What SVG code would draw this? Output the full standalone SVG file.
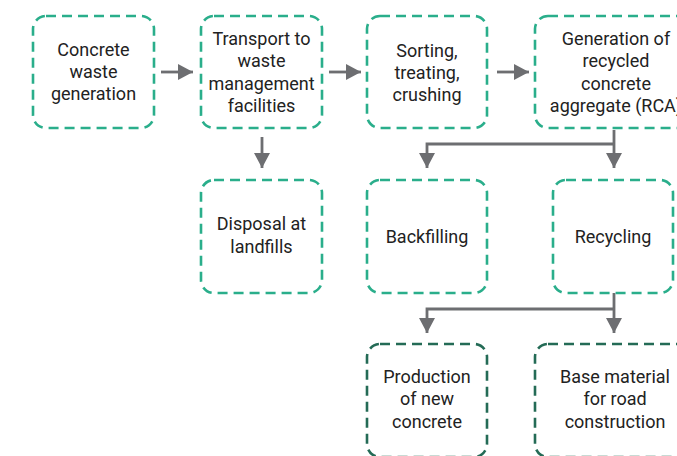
<svg xmlns="http://www.w3.org/2000/svg" width="677" height="456" viewBox="0 0 677 456">
<defs>
<style>
.box{fill:#ffffff;stroke:#2aae8b;stroke-width:2.6;stroke-dasharray:10 6}
.dark{stroke:#246b56}
.t{font-family:Roboto,"Liberation Sans",sans-serif;font-size:18px;fill:#222222;text-anchor:middle}
.c{fill:none;stroke:#6d6e71;stroke-width:2.8}
</style>
<marker id="ah" markerUnits="userSpaceOnUse" markerWidth="16" markerHeight="16" refX="15" refY="8" orient="auto" viewBox="0 0 16 16">
<path d="M0,0 L15,8 L0,16 z" fill="#6d6e71"/>
</marker>
</defs>
<rect width="677" height="456" fill="#ffffff"/>
<g id="connectors">
<path class="c" d="M161,72 H193" marker-end="url(#ah)"/>
<path class="c" d="M329,72 H361" marker-end="url(#ah)"/>
<path class="c" d="M497,72 H529" marker-end="url(#ah)"/>
<path class="c" d="M262,137 V168" marker-end="url(#ah)"/>
<path class="c" d="M614,130 V168" marker-end="url(#ah)"/>
<path class="c" d="M614,144 H427 V168" marker-end="url(#ah)"/>
<path class="c" d="M614,293 V333" marker-end="url(#ah)"/>
<path class="c" d="M614,309 H427 V333" marker-end="url(#ah)"/>
</g>
<g id="n1"><rect class="box" x="33" y="16" width="121" height="112" rx="13"/>
<text class="t" x="93.5" y="56">Concrete</text><text class="t" x="93.5" y="78">waste</text><text class="t" x="93.5" y="100">generation</text></g>
<g id="n2"><rect class="box" x="201" y="16" width="121" height="112" rx="13"/>
<text class="t" x="261.5" y="45">Transport to</text><text class="t" x="261.5" y="67">waste</text><text class="t" x="261.5" y="90">management</text><text class="t" x="261.5" y="112">facilities</text></g>
<g id="n3"><rect class="box" x="367" y="16" width="120" height="112" rx="13"/>
<text class="t" x="427" y="57">Sorting,</text><text class="t" x="427" y="79">treating,</text><text class="t" x="427" y="101">crushing</text></g>
<g id="n4"><rect class="box" x="535" y="16" width="160" height="112" rx="13"/>
<text class="t" x="616" y="45">Generation of</text><text class="t" x="616" y="67">recycled</text><text class="t" x="616" y="90">concrete</text><text class="t" x="616" y="112">aggregate (RCA)</text></g>
<g id="n5"><rect class="box" x="201" y="180" width="121" height="113" rx="13"/>
<text class="t" x="261.5" y="230">Disposal at</text><text class="t" x="261.5" y="253">landfills</text></g>
<g id="n6"><rect class="box" x="367" y="180" width="120" height="113" rx="13"/>
<text class="t" x="427" y="243">Backfilling</text></g>
<g id="n7"><rect class="box" x="553" y="180" width="120" height="113" rx="13"/>
<text class="t" x="613" y="243">Recycling</text></g>
<g id="n8"><rect class="box dark" x="367" y="344" width="120" height="113" rx="13"/>
<text class="t" x="427" y="383">Production</text><text class="t" x="427" y="405">of new</text><text class="t" x="427" y="428">concrete</text></g>
<g id="n9"><rect class="box dark" x="535" y="344" width="160" height="113" rx="13"/>
<text class="t" x="615" y="383">Base material</text><text class="t" x="615" y="405">for road</text><text class="t" x="615" y="428">construction</text></g>
</svg>
